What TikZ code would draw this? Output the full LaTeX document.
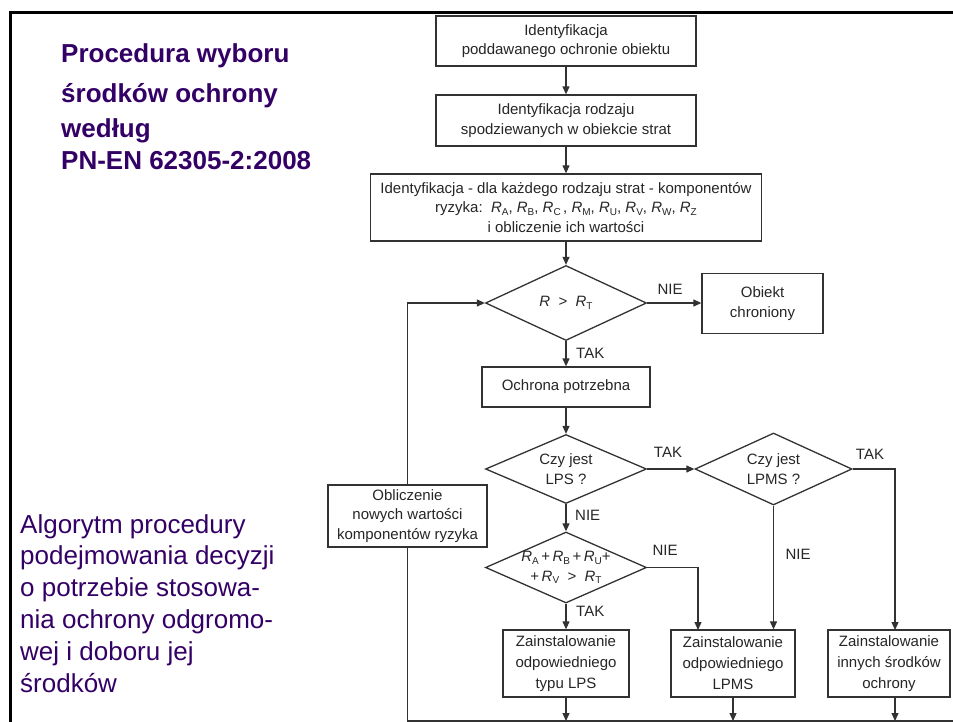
\documentclass[tikz,border=0pt]{standalone}
\usepackage{fontspec}
\setmainfont{Liberation Sans}
\usetikzlibrary{arrows.meta,shapes.geometric}
\definecolor{titlec}{RGB}{51,0,102}
\definecolor{linec}{RGB}{50,50,50}
\newcommand\Rsb[1]{\textit{R}\raisebox{-0.3ex}{\fontsize{10}{10}\selectfont #1}}
\begin{document}
\begin{tikzpicture}[x=1pt,y=-1pt,
  every node/.style={font=\fontsize{15}{19.5}\selectfont, text=black!85},
  stepbox/.style={draw=linec, line width=1.3pt, fill=white, inner sep=0pt, align=center},
  dia/.style={draw=linec, line width=1.3pt, diamond, inner sep=0pt},
  dtxt/.style={inner sep=0pt, align=center},
  conn/.style={draw=linec, line width=1.2pt},
  arr/.style={conn, -{Triangle[length=8pt,width=7pt]}},
  lab/.style={font=\fontsize{15}{18}\selectfont, inner sep=0pt},
  ttl/.style={font=\fontsize{26}{30}\selectfont\bfseries, text=titlec, anchor=base west, inner sep=0pt},
  side/.style={font=\fontsize{26}{30}\selectfont, text=titlec, anchor=base west, inner sep=0pt},
]
\useasboundingbox (0,0) rectangle (953,722);
% frame
\draw[line width=2.5pt, black] (10.5,730) -- (10.5,12.5) -- (960,12.5);

% titles
\node[ttl] (h1) at (61,63) {Procedura wyboru};
\node[ttl] (h2) at (61,103) {środków ochrony};
\node[ttl] (h3) at (61,138) {według};
\node[ttl] (h4) at (61,170) {PN-EN 62305-2:2008};

\node[side] (s1) at (20,533) {Algorytm procedury};
\node[side] (s2) at (20,564) {podejmowania decyzji};
\node[side] (s3) at (20,596) {o potrzebie stosowa-};
\node[side] (s4) at (20,628) {nia ochrony odgromo-};
\node[side] (s5) at (20,660) {wej i doboru jej};
\node[side] (s6) at (20,692) {środków};

% boxes
\node[stepbox, minimum width=260pt, minimum height=50pt] (b1) at (566,41) {Identyfikacja\\poddawanego ochronie obiektu};
\node[stepbox, minimum width=260pt, minimum height=51pt] (b2) at (566,120.5) {Identyfikacja rodzaju\\spodziewanych w obiekcie strat};
\node[stepbox, minimum width=391pt, minimum height=67pt] (b3) at (566,207.5) {Identyfikacja - dla każdego rodzaju strat - komponentów\\ryzyka:\ \ \Rsb{A}, \Rsb{B}, \Rsb{C}\,, \Rsb{M}, \Rsb{U}, \Rsb{V}, \Rsb{W}, \Rsb{Z}\\i obliczenie ich wartości};

\node[dia, minimum width=161pt, minimum height=75pt] (d1) at (566,303) {};
\node[dtxt] (d1t) at (d1) {\textit{R} \ > \ \Rsb{T}};
\node[stepbox, minimum width=121pt, minimum height=60pt] (ob) at (762.5,303.5) {Obiekt\\chroniony};
\node[stepbox, minimum width=168pt, minimum height=40pt] (oc) at (566,387) {Ochrona potrzebna};

\node[dia, minimum width=161pt, minimum height=69pt] (d2) at (566,469) {};
\node[dtxt] (d2t) at (d2) {Czy jest\\LPS ?};
\node[dia, minimum width=157pt, minimum height=72pt] (d3) at (773.5,469) {};
\node[dtxt] (d3t) at (d3) {Czy jest\\LPMS ?};
\node[dia, minimum width=161pt, minimum height=71pt] (d4) at (566,567.5) {};
\node[dtxt] (d4t) at (d4) {\Rsb{A}\,+\,\Rsb{B}\,+\,\Rsb{U}+\\+\,\Rsb{V} \ > \ \Rsb{T}};

\node[stepbox, minimum width=159pt, minimum height=62pt] (obl) at (407.5,516) {Obliczenie\\nowych wartości\\komponentów ryzyka};

\node[stepbox, minimum width=126pt, minimum height=67pt, font=\fontsize{15}{21}\selectfont] (lps) at (566,663.5) {Zainstalowanie\\odpowiedniego\\typu LPS};
\node[stepbox, minimum width=124pt, minimum height=67pt, font=\fontsize{15}{21}\selectfont] (lpms) at (733,663.5) {Zainstalowanie\\odpowiedniego\\LPMS};
\node[stepbox, minimum width=122pt, minimum height=67pt, font=\fontsize{15}{21}\selectfont] (inn) at (889,663.5) {Zainstalowanie\\innych środków\\ochrony};

% coordinates
\coordinate (botL) at (407.5,721);
\coordinate (botR) at (960,721);
\coordinate (c1) at (698,630);
\coordinate (c2) at (895,630);
\coordinate (c3) at (895,697);

% connectors
\draw[arr] (b1.south) -- (b2.north);
\draw[arr] (b2.south) -- (b3.north);
\draw[arr] (b3.south) -- (d1.north);
\draw[arr] (d1.east) -- (d1.east -| ob.west);
\draw[arr] (d1.south) -- (oc.north);
\draw[arr] (oc.south) -- (d2.north);
\draw[arr] (d2.east) -- (d3.west);
\draw[arr] (d2.south) -- (d4.north);
\draw[arr] (d4.south) -- (lps.north);
\draw[arr] (d4.east) -| (c1);
\draw[arr] (d3.south) -- (d3.south |- lpms.north);
\draw[arr] (d3.east) -| (c2);
\draw[arr] (lps.south) -- (lps.south |- botL);
\draw[arr] (lpms.south) -- (lpms.south |- botL);
\draw[arr] (c3) -- (c3 |- botL);
\draw[conn] (botR) -- (botL) -- (obl.south);
\draw[arr] (obl.north) |- (d1.west);

% labels
\node[lab] (n1) at (670,289) {NIE};
\node[lab, anchor=west] (t1) at (576,353) {TAK};
\node[lab] (t2) at (668,452) {TAK};
\node[lab, anchor=west] (n2) at (575,515) {NIE};
\node[lab] (n3) at (665,550) {NIE};
\node[lab, anchor=west] (t3) at (576,611) {TAK};
\node[lab] (t4) at (870,454) {TAK};
\node[lab] (n4) at (798,554) {NIE};
\end{tikzpicture}
\end{document}
